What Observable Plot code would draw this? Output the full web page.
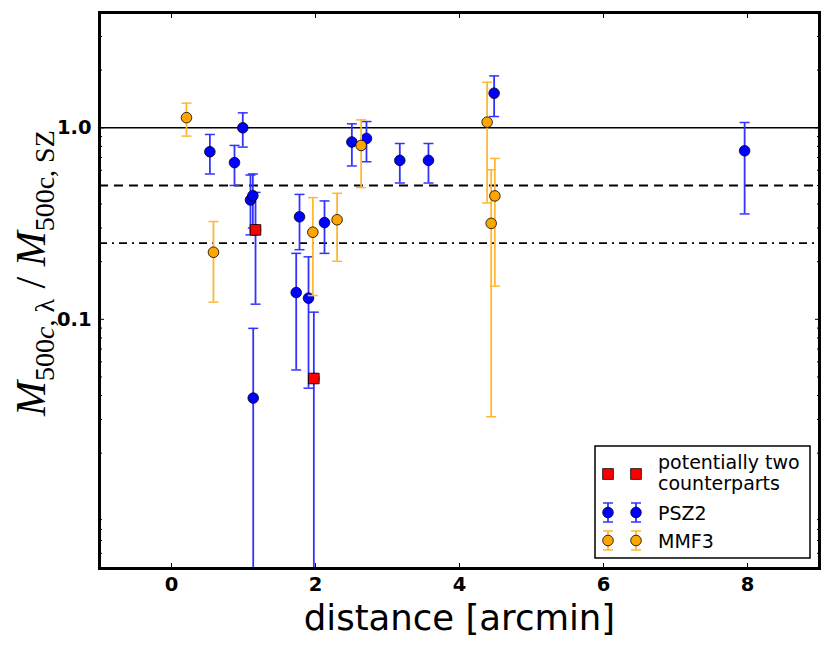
<!DOCTYPE html>
<html><head><meta charset="utf-8">
<script src="https://cdn.jsdelivr.net/npm/d3@7"></script>
<script src="https://cdn.jsdelivr.net/npm/@observablehq/plot@0.6"></script>
<style>body{margin:0;background:#fff}</style>
</head><body><div id="chart"></div>
<script>
// PSZ2 matches: distance [arcmin], mass ratio, lower / upper error-bar ends
const psz2Dist  = [0.533, 0.875, 0.99, 1.097, 1.13, 1.167, 1.135, 1.732, 1.778, 1.903, 1.977, 2.125, 2.505, 2.708, 3.171, 3.569, 4.481, 7.96];
const psz2Ratio = [0.75, 0.658, 1.0, 0.42, 0.442, 0.293, 0.0388, 0.138, 0.343, 0.129, 0.0491, 0.32, 0.843, 0.88, 0.676, 0.676, 1.516, 0.759];
const psz2Low   = [0.574, 0.50, 0.793, 0.276, 0.30, 0.12, 0.001, 0.0544, 0.231, 0.0437, 0.001, 0.221, 0.632, 0.665, 0.515, 0.515, 1.145, 0.355];
const psz2High  = [0.923, 0.809, 1.197, 0.567, 0.574, 0.46, 0.0897, 0.221, 0.449, 0.212, 0.109, 0.415, 1.049, 1.078, 0.828, 0.828, 1.866, 1.066];

// MMF3 matches
const mmf3Dist  = [0.208, 0.583, 1.963, 2.30, 2.634, 4.384, 4.491, 4.44];
const mmf3Ratio = [1.13, 0.224, 0.285, 0.331, 0.809, 1.07, 0.441, 0.317];
const mmf3Low   = [0.905, 0.123, 0.133, 0.201, 0.487, 0.405, 0.149, 0.031];
const mmf3High  = [1.345, 0.324, 0.432, 0.455, 1.10, 1.73, 0.692, 0.604];

// potentially two counterparts
const twoDist  = [1.167, 1.977];
const twoRatio = [0.293, 0.0491];

// reference levels
const refSolid = [1.0];
const refDashed = [0.5];
const refDashDot = [0.25];

// ticks
const xTicks = [0, 2, 4, 6, 8];
const yMajor = [0.1, 1];
const yMajorLabels = ["0.1", "1.0"];
const yMinor = [0.006, 0.007, 0.008, 0.009, 0.02, 0.03, 0.04, 0.05, 0.06, 0.07, 0.08, 0.09,
                0.2, 0.3, 0.4, 0.5, 0.6, 0.7, 0.8, 0.9, 2, 3];

const rows = (d, r, lo, hi) => d.map((x, i) => ({dist: x, ratio: r[i], low: lo ? lo[i] : null, high: hi ? hi[i] : null}));
const psz2 = rows(psz2Dist, psz2Ratio, psz2Low, psz2High);
const mmf3 = rows(mmf3Dist, mmf3Ratio, mmf3Low, mmf3High);
const two = rows(twoDist, twoRatio);
const yLabelRows = yMajor.map((v, i) => ({v, label: yMajorLabels[i]}));

const cap = {draw(ctx, size) { const w = Math.sqrt(size / Math.PI); ctx.moveTo(-w, 0); ctx.lineTo(w, 0); }};

const BLUE = "#0000ff", BLUE_BAR = "#3333ff", ORANGE = "#ffa500", ORANGE_BAR = "#ffb733";

function errMarks(data, fill, barColor) {
  return [
    Plot.ruleX(data, {x: "dist", y1: "low", y2: "high", stroke: barColor, strokeWidth: 1.8, clip: true}),
    Plot.dot(data, {x: "dist", y: "low", symbol: cap, r: 5, fill: "none", stroke: barColor, strokeWidth: 1.5, clip: true}),
    Plot.dot(data, {x: "dist", y: "high", symbol: cap, r: 5, fill: "none", stroke: barColor, strokeWidth: 1.5, clip: true}),
    Plot.dot(data, {x: "dist", y: "ratio", r: 5.3, fill, stroke: "black", strokeWidth: 0.8, clip: true})
  ];
}

const chart = Plot.plot({
  width: 831, height: 648,
  marginLeft: 99, marginRight: 12, marginTop: 12, marginBottom: 80,
  x: {domain: [-1, 9], axis: null},
  y: {type: "log", domain: [0.005, 4], axis: null},
  style: {fontFamily: "DejaVu Sans", fontSize: "17px", background: "white", color: "black", overflow: "visible"},
  marks: [
    Plot.ruleY(refSolid, {stroke: "black", strokeWidth: 1.5}),
    Plot.ruleY(refDashed, {stroke: "black", strokeWidth: 2, strokeDasharray: "9,6"}),
    Plot.ruleY(refDashDot, {stroke: "black", strokeWidth: 1.8, strokeDasharray: "8,5,2,5"}),
    ...errMarks(psz2, BLUE, BLUE_BAR),
    ...errMarks(mmf3, ORANGE, ORANGE_BAR),
    Plot.dot(two, {x: "dist", y: "ratio", symbol: "square", r: 6, fill: "#ff0000", stroke: "black", strokeWidth: 0.8}),
    // tick marks (inside the frame)
    Plot.axisX({ticks: xTicks, anchor: "bottom", tickSize: -5, fill: "none", label: null, strokeWidth: 1}),
    Plot.axisX({ticks: xTicks, anchor: "top", tickSize: -5, fill: "none", label: null, strokeWidth: 1}),
    Plot.axisY({ticks: yMajor, anchor: "left", tickSize: -5, fill: "none", label: null}),
    Plot.axisY({ticks: yMajor, anchor: "right", tickSize: -5, fill: "none", label: null}),
    Plot.axisY({ticks: yMinor, anchor: "left", tickSize: -3, fill: "none", label: null}),
    Plot.axisY({ticks: yMinor, anchor: "right", tickSize: -3, fill: "none", label: null}),
    // tick labels
    Plot.text(xTicks, {x: d => d, frameAnchor: "bottom", lineAnchor: "top", dy: 9, text: d => String(d),
      fontSize: 19.5, fontWeight: "bold", fill: "black"}),
    Plot.text(yLabelRows, {y: "v", text: "label", frameAnchor: "left", textAnchor: "end", dx: -8,
      fontSize: 19.5, fontWeight: "bold", fill: "black"}),
    Plot.text(["distance [arcmin]"], {frameAnchor: "bottom", lineAnchor: "bottom", dy: 61, fontSize: 35.5, fill: "black"}),
    Plot.frame({stroke: "black", strokeWidth: 3})
  ]
});

document.getElementById("chart").appendChild(chart);

const svg = d3.select(chart);

// y-axis label with subscripts
const yl = svg.append("text")
  .attr("transform", "translate(45,416) rotate(-90)")
  .attr("text-anchor", "start")
  .attr("font-family", "Liberation Serif")
  .attr("fill", "black");
yl.append("tspan").attr("font-size", 42).attr("font-style", "italic").text("M");
yl.append("tspan").attr("font-size", 28).attr("dy", 9).text("500");
yl.append("tspan").attr("font-size", 28).attr("font-style", "italic").text("c");
yl.append("tspan").attr("font-size", 28).text(", λ");
yl.append("tspan").attr("font-size", 42).attr("dy", -9).text(" / ");
yl.append("tspan").attr("font-size", 42).attr("font-style", "italic").text("M");
yl.append("tspan").attr("font-size", 28).attr("dy", 9).text("500c, SZ");

// legend
const lg = svg.append("g").attr("font-family", "DejaVu Sans").attr("font-size", 19).attr("text-anchor", "start");
lg.append("rect").attr("x", 595).attr("y", 446).attr("width", 215).attr("height", 112)
  .attr("fill", "white").attr("stroke", "black").attr("stroke-width", 1.5);
const mx = [608, 636];
for (const x of mx) {
  lg.append("rect").attr("x", x - 5.3).attr("y", 474 - 5.3).attr("width", 10.6).attr("height", 10.6)
    .attr("fill", "#ff0000").attr("stroke", "black").attr("stroke-width", 0.8);
}
lg.append("text").attr("x", 658).attr("y", 469).text("potentially two");
lg.append("text").attr("x", 658).attr("y", 490).text("counterparts");
const entries = [{cy: 512.5, fill: BLUE, bar: BLUE_BAR, label: "PSZ2"}, {cy: 540.5, fill: ORANGE, bar: ORANGE_BAR, label: "MMF3"}];
for (const e of entries) {
  for (const x of mx) {
    lg.append("line").attr("x1", x).attr("x2", x).attr("y1", e.cy - 9.5).attr("y2", e.cy + 9.5).attr("stroke", e.bar).attr("stroke-width", 1.8);
    lg.append("line").attr("x1", x - 5).attr("x2", x + 5).attr("y1", e.cy - 9.5).attr("y2", e.cy - 9.5).attr("stroke", e.bar).attr("stroke-width", 1.5);
    lg.append("line").attr("x1", x - 5).attr("x2", x + 5).attr("y1", e.cy + 9.5).attr("y2", e.cy + 9.5).attr("stroke", e.bar).attr("stroke-width", 1.5);
    lg.append("circle").attr("cx", x).attr("cy", e.cy).attr("r", 5.3).attr("fill", e.fill).attr("stroke", "black").attr("stroke-width", 0.8);
  }
  lg.append("text").attr("x", 658).attr("y", e.cy + 7).text(e.label);
}
</script>
</body></html>
